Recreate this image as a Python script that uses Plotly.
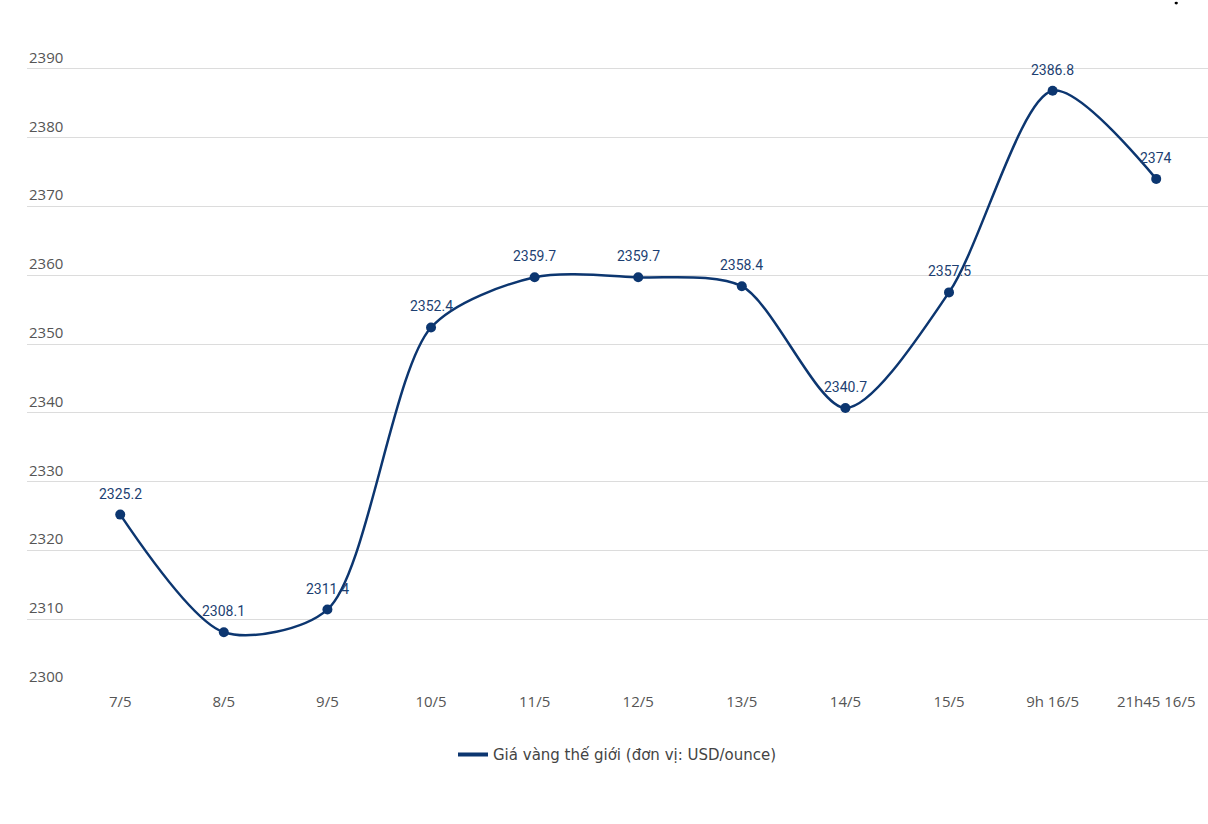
import plotly.graph_objects as go

categories = ["7/5", "8/5", "9/5", "10/5", "11/5", "12/5", "13/5", "14/5", "15/5", "9h 16/5", "21h45 16/5"]
prices = [2325.2, 2308.1, 2311.4, 2352.4, 2359.7, 2359.7, 2358.4, 2340.7, 2357.5, 2386.8, 2374]
labels = ["2325.2", "2308.1", "2311.4", "2352.4", "2359.7", "2359.7", "2358.4", "2340.7", "2357.5", "2386.8", "2374"]
y_ticks = [2300, 2310, 2320, 2330, 2340, 2350, 2360, 2370, 2380, 2390]
series_name = "Giá vàng thế giới (đơn vị: USD/ounce)"

LINE = "#0c3670"
x_idx = list(range(len(categories)))

fig = go.Figure()
fig.add_trace(go.Scatter(
    x=x_idx, y=prices, mode="lines+markers",
    line=dict(color=LINE, width=2.5, shape="spline", smoothing=0.8),
    marker=dict(size=10, color=LINE),
    showlegend=False, hoverinfo="skip",
))
fig.add_trace(go.Scatter(
    x=[None], y=[None], mode="lines", name=series_name,
    line=dict(color=LINE, width=4), showlegend=True,
))

for xi, v, t in zip(x_idx, prices, labels):
    fig.add_annotation(x=xi, y=v, text=t, showarrow=False, yanchor="middle",
                       yshift=21, font=dict(family="Roboto", size=14, color="#1d3f72"))

for v in y_ticks:
    fig.add_annotation(x=0, xref="paper", y=v, yref="y", text=str(v),
                       showarrow=False, xanchor="left", yanchor="bottom",
                       yshift=0, font=dict(family="Open Sans", size=15, color="#555555"))

fig.add_shape(type="circle", xref="paper", yref="paper",
              x0=0.9717, x1=0.9745, y0=0.9935, y1=0.9975,
              fillcolor="black", line=dict(width=0))

fig.update_layout(
    width=1208, height=824,
    margin=dict(l=27, r=0, t=0, b=136),
    plot_bgcolor="white", paper_bgcolor="white",
    xaxis=dict(
        tickmode="array", tickvals=x_idx, ticktext=categories,
        range=[-0.9, 10.5], showgrid=False, zeroline=False, showline=False,
        ticks="", tickfont=dict(family="Open Sans", size=15, color="#555555"),
        ticklabelstandoff=3,
    ),
    yaxis=dict(
        range=[2300, 2400], tickvals=y_ticks, showticklabels=False,
        showgrid=True, gridcolor="#dcdcdc", gridwidth=1, zeroline=False,
        showline=False, ticks="",
    ),
    legend=dict(orientation="h", x=0.5, xanchor="center", y=-0.097, yanchor="middle",
                font=dict(family="DejaVu Sans", size=15, color="#444444"), itemwidth=30),
)

fig.write_html("out.html", post_script="document.body.style.margin='0';",
               config={"displayModeBar": False})
